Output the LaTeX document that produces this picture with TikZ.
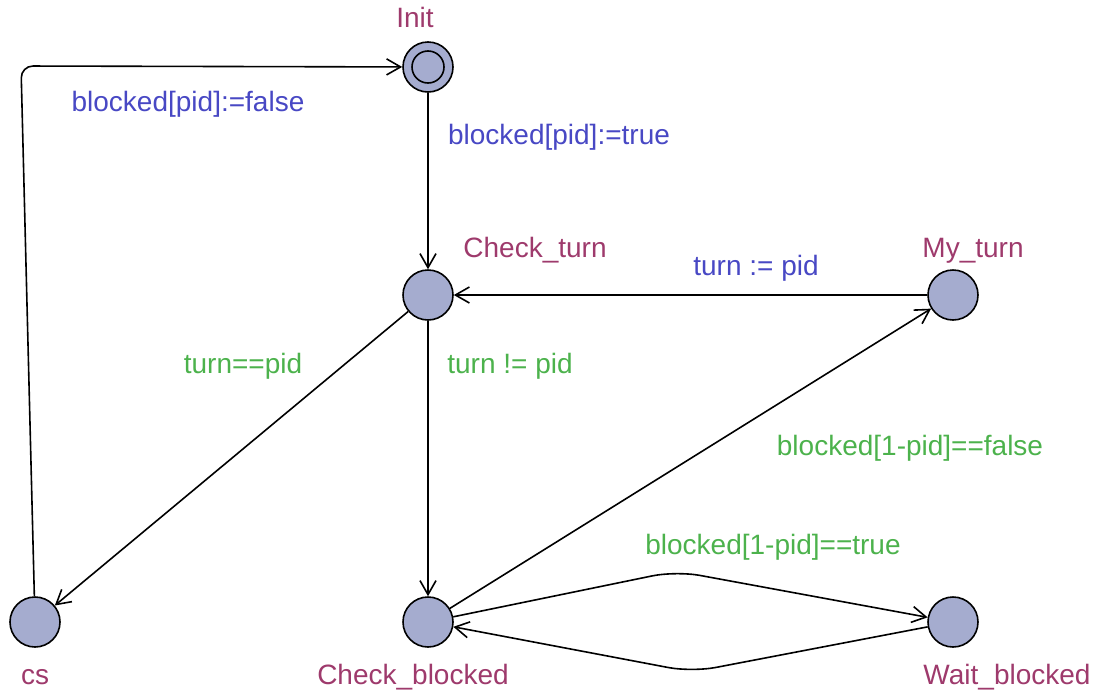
\documentclass[tikz,border=0pt]{standalone}
\usepackage{fontspec}
\setmainfont{Liberation Sans}
\usetikzlibrary{arrows.meta}
\definecolor{locfill}{RGB}{165,172,207}
\definecolor{namecol}{RGB}{158,58,108}
\definecolor{asgcol}{RGB}{72,72,196}
\definecolor{grdcol}{RGB}{76,178,76}
\begin{document}
\begin{tikzpicture}[x=0.5pt,y=-0.5pt,tr/.style={line width=0.8pt,-{Straight Barb[length=7pt,width=8pt,line width=0.8pt]}}]
\tikzstyle{loc}=[circle, draw, fill=locfill, line width=0.8pt, minimum size=25pt, inner sep=0pt]
\tikzstyle{txt}=[font=\fontsize{14}{16}\selectfont, inner sep=0pt, text height=10pt, text depth=3pt]
\tikzstyle{nm}=[txt, text=namecol]
\tikzstyle{asg}=[txt, text=asgcol]
\tikzstyle{grd}=[txt, text=grdcol]
\useasboundingbox (0,0) rectangle (1097,691);
\node[loc] (init) at (428,67){};
\node[loc] (ct) at (428,295){};
\node[loc] (mt) at (953,295){};
\node[loc] (cs) at (35,622){};
\node[loc] (cb) at (428,622){};
\node[loc] (wb) at (953,622){};
\draw[line width=0.8pt] (init) circle[radius=16];
% location names
\node[nm] (nInit) at (415,20){Init};
\node[nm] (nct) at (535,250){Check\_turn};
\node[nm] (nmt) at (973,250){My\_turn};
\node[nm] (ncs) at (35,677){cs};
\node[nm] (ncb) at (413,677){Check\_blocked};
\node[nm] (nwb) at (1007,677){Wait\_blocked};
% nails
\coordinate (n1) at (21,66);
\coordinate (n2) at (676,571);
\coordinate (n3) at (692,672);
\foreach \i/\j in {init/ct,mt/ct,ct/cs,ct/cb,cb/mt}{\draw[tr] (\i) -- (\j);}
\draw[tr, rounded corners=6pt] (cs) -- (n1) -- (init);
\draw[tr, rounded corners=12pt] (cb) -- (n2) -- (wb);
\draw[tr, rounded corners=12pt] (wb) -- (n3) -- (cb);
% guards and updates
\node[asg] (a1) at (188,104){blocked[pid]:=false};
\node[asg] (a2) at (559,137){blocked[pid]:=true};
\node[asg] (a3) at (756,268){turn := pid};
\node[grd] (g1) at (243,366){turn==pid};
\node[grd] (g2) at (510,366){turn != pid};
\node[grd] (g3) at (910,448){blocked[1-pid]==false};
\node[grd] (g4) at (773,547){blocked[1-pid]==true};
\end{tikzpicture}
\end{document}
